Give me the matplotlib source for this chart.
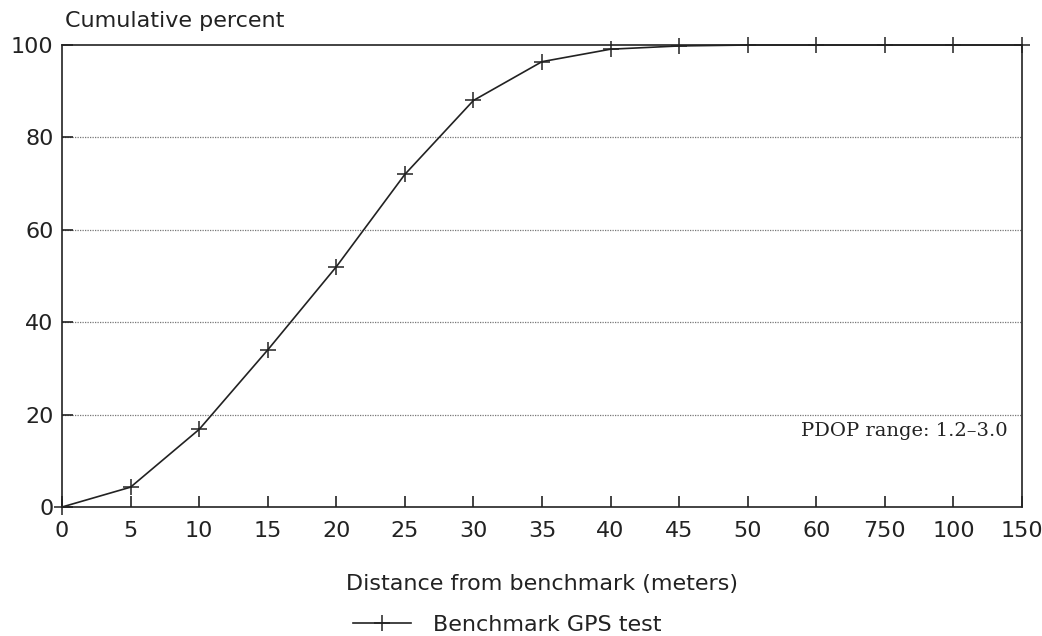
import matplotlib
matplotlib.use("Agg")
import matplotlib.pyplot as plt

distance_labels = ["0", "5", "10", "15", "20", "25", "30", "35", "40", "45",
                   "50", "60", "750", "100", "150"]
cumulative_percent = [0, 4.3, 16.8, 34, 52, 72, 88, 96.4, 99.1, 99.8,
                      100, 100, 100, 100, 100]
y_ticks = [0, 20, 40, 60, 80, 100]
series_name = "Benchmark GPS test"
annotation = "PDOP range: 1.2\u20133.0"

ink = "#222222"
fs = 16
fig = plt.figure(figsize=(10.42, 6.36), dpi=100)
ax = fig.add_axes([0.0595, 0.2028, 0.9213, 0.7264])

x = list(range(len(distance_labels)))
line, = ax.plot(x, cumulative_percent, color=ink, lw=1.2, marker="+",
                markersize=12, markeredgewidth=1.1, label=series_name,
                clip_on=False, zorder=3)

ax.set_xlim(0, len(distance_labels) - 1)
ax.set_ylim(0, 100)
ax.set_xticks(x)
ax.set_xticklabels(distance_labels)
ax.set_yticks(y_ticks)
ax.tick_params(axis="both", direction="in", length=8, width=1.2, color=ink,
               labelsize=fs, labelcolor=ink)
ax.tick_params(axis="x", pad=10)
ax.tick_params(axis="y", pad=6)
for sp in ax.spines.values():
    sp.set_color(ink)
    sp.set_linewidth(1.2)

for yv in y_ticks[1:-1]:
    ax.axhline(yv, color="#777777", lw=0.9, ls=(0, (1, 1)), zorder=1)

fig.text(0.0624, 0.952, "Cumulative percent", fontsize=fs, color=ink,
         ha="left", va="bottom")
ax.set_xlabel("Distance from benchmark (meters)", fontsize=fs, color=ink,
              labelpad=24)
ax.text(0.985, 0.165, annotation, transform=ax.transAxes, fontsize=14,
        family="DejaVu Serif", color=ink, ha="right", va="center")

fig.legend(handles=[line], loc="center", bbox_to_anchor=(0.487, 0.018),
           frameon=False, fontsize=fs, handlelength=2.6, markerscale=1.0,
           labelcolor=ink, handletextpad=1.0)

fig.savefig("out.png", dpi=100)
